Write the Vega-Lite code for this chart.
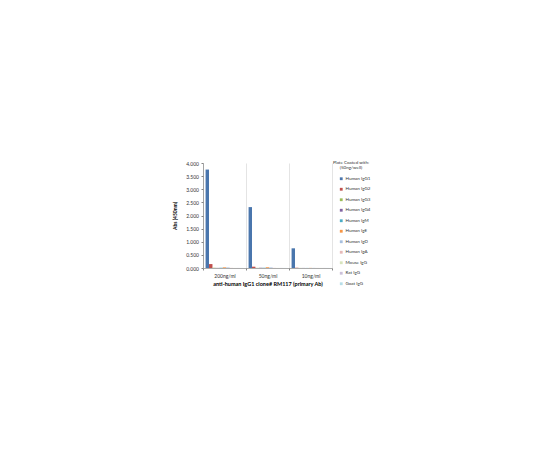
{
  "$schema": "https://vega.github.io/schema/vega-lite/v6.json",
  "width": 129,
  "height": 105,
  "autosize": {"type": "none"},
  "padding": {"left": 203, "top": 163, "right": 208, "bottom": 182},
  "background": "white",
  "config": {"view": {"stroke": null}, "font": "Lato"},
  "data": {
    "values": [
      {"conc": "200ng/ml", "coating": "Human IgG1", "abs": 3.75},
      {"conc": "200ng/ml", "coating": "Human IgG2", "abs": 0.15},
      {"conc": "200ng/ml", "coating": "Human IgG3", "abs": 0.01},
      {"conc": "200ng/ml", "coating": "Human IgG4", "abs": 0.005},
      {"conc": "200ng/ml", "coating": "Human IgM", "abs": 0.01},
      {"conc": "200ng/ml", "coating": "Human IgE", "abs": 0.025},
      {"conc": "200ng/ml", "coating": "Human IgD", "abs": 0.02},
      {"conc": "200ng/ml", "coating": "Human IgA", "abs": 0.005},
      {"conc": "200ng/ml", "coating": "Mouse IgG", "abs": 0.003},
      {"conc": "200ng/ml", "coating": "Rat IgG", "abs": 0.003},
      {"conc": "200ng/ml", "coating": "Goat IgG", "abs": 0.003},
      {"conc": "50ng/ml", "coating": "Human IgG1", "abs": 2.32},
      {"conc": "50ng/ml", "coating": "Human IgG2", "abs": 0.05},
      {"conc": "50ng/ml", "coating": "Human IgG3", "abs": 0.005},
      {"conc": "50ng/ml", "coating": "Human IgG4", "abs": 0.01},
      {"conc": "50ng/ml", "coating": "Human IgM", "abs": 0.01},
      {"conc": "50ng/ml", "coating": "Human IgE", "abs": 0.025},
      {"conc": "50ng/ml", "coating": "Human IgD", "abs": 0.02},
      {"conc": "50ng/ml", "coating": "Human IgA", "abs": 0.005},
      {"conc": "50ng/ml", "coating": "Mouse IgG", "abs": 0.003},
      {"conc": "50ng/ml", "coating": "Rat IgG", "abs": 0.003},
      {"conc": "50ng/ml", "coating": "Goat IgG", "abs": 0.003},
      {"conc": "10ng/ml", "coating": "Human IgG1", "abs": 0.75},
      {"conc": "10ng/ml", "coating": "Human IgG2", "abs": 0.01},
      {"conc": "10ng/ml", "coating": "Human IgG3", "abs": 0.003},
      {"conc": "10ng/ml", "coating": "Human IgG4", "abs": 0.003},
      {"conc": "10ng/ml", "coating": "Human IgM", "abs": 0.003},
      {"conc": "10ng/ml", "coating": "Human IgE", "abs": 0.005},
      {"conc": "10ng/ml", "coating": "Human IgD", "abs": 0.005},
      {"conc": "10ng/ml", "coating": "Human IgA", "abs": 0.003},
      {"conc": "10ng/ml", "coating": "Mouse IgG", "abs": 0.003},
      {"conc": "10ng/ml", "coating": "Rat IgG", "abs": 0.003},
      {"conc": "10ng/ml", "coating": "Goat IgG", "abs": 0.003}
    ]
  },
  "mark": {"type": "bar", "stroke": null},
  "encoding": {
    "x": {
      "field": "conc",
      "type": "nominal",
      "sort": ["200ng/ml", "50ng/ml", "10ng/ml"],
      "scale": {"paddingInner": 0, "paddingOuter": 0},
      "axis": {
        "title": "anti-human IgG1 clone# RM117 (primary Ab)",
        "titleFontSize": 5.5,
        "titleFontWeight": "bold",
        "titleColor": "#000000",
        "titlePadding": 3,
        "labelAngle": 0,
        "labelFontSize": 5,
        "labelColor": "#333333",
        "labelPadding": 3,
        "tickBand": "extent",
        "tickSize": 2,
        "tickColor": "#868686",
        "domainColor": "#868686",
        "domainWidth": 0.7,
        "grid": true,
        "gridColor": "#D9D9D9",
        "gridWidth": 0.7
      }
    },
    "xOffset": {
      "field": "coating",
      "type": "nominal",
      "sort": ["Human IgG1", "Human IgG2", "Human IgG3", "Human IgG4", "Human IgM", "Human IgE", "Human IgD", "Human IgA", "Mouse IgG", "Rat IgG", "Goat IgG"],
      "scale": {"paddingInner": 0, "paddingOuter": 0.75}
    },
    "y": {
      "field": "abs",
      "type": "quantitative",
      "scale": {"domain": [0, 4]},
      "axis": {
        "title": "Abs (450nm)",
        "titleFontSize": 5,
        "titleFontWeight": "bold",
        "titleColor": "#000000",
        "titlePadding": 8,
        "values": [0, 0.5, 1, 1.5, 2, 2.5, 3, 3.5, 4],
        "format": ".3f",
        "labelFontSize": 5,
        "labelColor": "#333333",
        "labelPadding": 2.5,
        "tickSize": 2,
        "tickColor": "#868686",
        "domainColor": "#868686",
        "domainWidth": 0.7,
        "grid": false
      }
    },
    "color": {
      "field": "coating",
      "type": "nominal",
      "sort": ["Human IgG1", "Human IgG2", "Human IgG3", "Human IgG4", "Human IgM", "Human IgE", "Human IgD", "Human IgA", "Mouse IgG", "Rat IgG", "Goat IgG"],
      "scale": {
        "domain": ["Human IgG1", "Human IgG2", "Human IgG3", "Human IgG4", "Human IgM", "Human IgE", "Human IgD", "Human IgA", "Mouse IgG", "Rat IgG", "Goat IgG"],
        "range": ["#4A76AD", "#C0504D", "#9BBB59", "#8064A2", "#4BACC6", "#F79646", "#A7BFDE", "#E6B9B8", "#D7E4BD", "#CCC1DA", "#B7DEE8"]
      },
      "legend": {
        "orient": "none",
        "legendX": 129,
        "legendY": -3,
        "padding": 0,
        "title": ["Plate Coated with:", "(50ng/well)"],
        "titleFontSize": 4.5,
        "titleFontWeight": "normal",
        "titleColor": "#333333",
        "titleAnchor": "middle",
        "titleAlign": "center",
        "titleLineHeight": 4.5,
        "titlePadding": 7.5,
        "symbolType": "square",
        "symbolSize": 8,
        "symbolStrokeWidth": 0,
        "symbolOffset": 7,
        "labelFontSize": 4.5,
        "labelColor": "#333333",
        "labelOffset": 2,
        "rowPadding": 5.5
      }
    }
  }
}
